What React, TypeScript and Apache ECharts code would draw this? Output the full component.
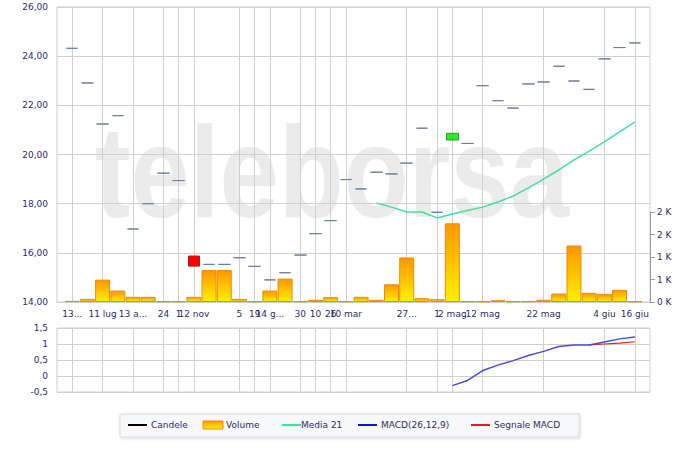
import React, { useEffect, useRef } from "react";
import * as echarts from "echarts";

// 40 category slots (first and last empty)
const tickLabels = [
  "", "13...", "", "11 lug", "", "13 a...", "", "24", "1", "12 nov",
  "", "", "5", "19", "14 g...", "", "30", "10", "26", "10 mar",
  "", "", "", "27...", "", "1", "2 mag", "", "12 mag", "",
  "", "", "22 mag", "", "", "", "4 giu", "", "16 giu", "",
];

const priceOpen: (number | null)[] = [
  null, 24.32, 22.91, 21.24, 21.58, 16.97, 18.0, 19.24, 18.94, 15.87,
  15.53, 15.53, 15.8, 15.45, 14.9, 15.19, 15.91, 16.78, 17.31, 18.98,
  18.6, 19.28, 19.21, 19.65, 21.07, 17.65, 20.59, 20.45, 22.8, 22.19,
  21.89, 22.87, 22.95, 23.59, 22.99, 22.65, 23.89, 24.35, 24.54, null,
];
const priceClose: (number | null)[] = [
  null, 24.32, 22.91, 21.24, 21.58, 16.97, 18.0, 19.24, 18.94, 15.46,
  15.53, 15.53, 15.8, 15.45, 14.9, 15.19, 15.91, 16.78, 17.31, 18.98,
  18.6, 19.28, 19.21, 19.65, 21.07, 17.65, 20.86, 20.45, 22.8, 22.19,
  21.89, 22.87, 22.95, 23.59, 22.99, 22.65, 23.89, 24.35, 24.54, null,
];

const volume: (number | null)[] = [
  null, 25, 70, 497, 254, 115, 115, 15, 15, 115,
  712, 712, 70, 15, 254, 520, 15, 49, 106, 15,
  115, 49, 393, 990, 84, 62, 1750, 15, 15, 40,
  15, 15, 49, 188, 1255, 203, 181, 270, 15, null,
];

const media21: (number | null)[] = [
  null, null, null, null, null, null, null, null, null, null,
  null, null, null, null, null, null, null, null, null, null,
  null, 18.03, 17.86, 17.66, 17.66, 17.42, 17.58, 17.72, 17.86, 18.07,
  18.31, 18.64, 19.0, 19.37, 19.78, 20.14, 20.51, 20.92, 21.33, null,
];

const macd: (number | null)[] = [
  null, null, null, null, null, null, null, null, null, null,
  null, null, null, null, null, null, null, null, null, null,
  null, null, null, null, null, null, -0.3, -0.14, 0.17, 0.34,
  0.48, 0.64, 0.77, 0.92, 0.97, 0.97, 1.06, 1.16, 1.22, null,
];

const signal: (number | null)[] = [
  null, null, null, null, null, null, null, null, null, null,
  null, null, null, null, null, null, null, null, null, null,
  null, null, null, null, null, null, null, null, null, null,
  null, null, null, null, null, 0.97, 1.0, 1.03, 1.07, null,
];

const TEXT = "#2c2c66";
const GRID_LINE = "#cfcfcf";
const FONT = "DejaVu Sans";

export default function App() {
  const ref = useRef<HTMLDivElement>(null);

  useEffect(() => {
    if (!ref.current) return;
    const chart = echarts.init(ref.current, undefined, { renderer: "svg" });

    const dash = "#6f7d96";
    const candleData = priceOpen.map((o, i) => {
      const c = priceClose[i];
      if (o == null || c == null) return ["-", "-", "-", "-"];
      const lo = Math.min(o, c);
      const hi = Math.max(o, c);
      if (o < c) {
        return {
          value: [o, c, lo, hi],
          itemStyle: { color: "#22ee22", borderColor: "#2f9a2f", color0: "#22ee22", borderColor0: "#2f9a2f" },
        };
      }
      if (o > c) {
        return {
          value: [o, c, lo, hi],
          itemStyle: { color0: "#ff0000", borderColor0: "#a52020", color: "#ff0000", borderColor: "#a52020" },
        };
      }
      return { value: [o, c, lo, hi] };
    });

    const showLine = (i: number) => tickLabels[i] !== "";

    const labelStyle = { color: TEXT, fontSize: 9, fontFamily: FONT };

    const barGradient = new echarts.graphic.LinearGradient(0, 0, 0, 1, [
      { offset: 0, color: "#ff9600" },
      { offset: 1, color: "#fff000" },
    ]);

    const legendY = 425;
    const legendText = (x: number, t: string) => ({
      type: "text",
      x,
      y: legendY,
      style: { text: t, fill: TEXT, font: `9px "${FONT}"`, verticalAlign: "middle" },
    });
    const legendLine = (x: number, color: string) => ({
      type: "line",
      shape: { x1: x, y1: legendY, x2: x + 19, y2: legendY },
      style: { stroke: color, lineWidth: 2 },
    });

    chart.setOption({
      animation: false,
      textStyle: { fontFamily: FONT },
      grid: [
        { left: 57, top: 7, width: 593, height: 295, show: true, borderColor: GRID_LINE, borderWidth: 1 },
        { left: 57, top: 212, width: 593, height: 90, show: false },
        { left: 57, top: 328, width: 593, height: 64, show: true, borderColor: GRID_LINE, borderWidth: 1 },
      ],
      xAxis: [
        {
          type: "category",
          gridIndex: 0,
          data: tickLabels,
          boundaryGap: false,
          axisLine: { show: true, lineStyle: { color: GRID_LINE } },
          axisTick: { show: false },
          axisLabel: { ...labelStyle, interval: 0, margin: 7 },
          splitLine: { show: true, interval: (i: number) => showLine(i), lineStyle: { color: GRID_LINE } },
        },
        {
          type: "category",
          gridIndex: 1,
          data: tickLabels,
          boundaryGap: false,
          show: false,
        },
        {
          type: "category",
          gridIndex: 2,
          data: tickLabels,
          boundaryGap: false,
          axisLine: { show: false },
          axisTick: { show: false },
          axisLabel: { show: false },
          splitLine: { show: true, interval: (i: number) => showLine(i), lineStyle: { color: GRID_LINE } },
        },
      ],
      yAxis: [
        {
          type: "value",
          gridIndex: 0,
          min: 14,
          max: 26,
          interval: 2,
          axisLine: { show: false },
          axisTick: { show: false },
          axisLabel: { ...labelStyle, margin: 9, formatter: (v: number) => v.toFixed(2).replace(".", ",") },
          splitLine: { show: true, lineStyle: { color: GRID_LINE } },
        },
        {
          type: "value",
          gridIndex: 1,
          position: "right",
          min: 0,
          max: 2000,
          interval: 500,
          axisLine: { show: true, lineStyle: { color: "#9a9a9a" } },
          axisTick: { show: true, length: 5, lineStyle: { color: "#9a9a9a" } },
          axisLabel: { ...labelStyle, margin: 7, formatter: (v: number) => Math.round(v / 1000) + " K" },
          splitLine: { show: false },
        },
        {
          type: "value",
          gridIndex: 2,
          min: -0.5,
          max: 1.5,
          interval: 0.5,
          axisLine: { show: false },
          axisTick: { show: false },
          axisLabel: { ...labelStyle, margin: 9, formatter: (v: number) => String(v).replace(".", ",") },
          splitLine: { show: true, lineStyle: { color: GRID_LINE } },
        },
      ],
      graphic: [
        {
          type: "text",
          x: 95,
          y: 172,
          scaleX: 0.82,
          z: -10,
          silent: true,
          style: {
            text: "teleborsa",
            font: 'bold 130px "Liberation Sans"',
            fill: "#ebebeb",
            verticalAlign: "middle",
          },
        },
        {
          type: "rect",
          shape: { x: 120, y: 414, width: 459, height: 23 },
          style: { fill: "#f7f8fa", stroke: "#d6dbe2", lineWidth: 1, shadowBlur: 3, shadowColor: "rgba(0,0,0,0.15)", shadowOffsetX: 1, shadowOffsetY: 1 },
        },
        legendLine(128, "#000000"),
        legendText(151, "Candele"),
        {
          type: "rect",
          shape: { x: 203, y: 421, width: 20, height: 8 },
          style: {
            fill: new echarts.graphic.LinearGradient(0, 0, 0, 1, [
              { offset: 0, color: "#ff9600" },
              { offset: 1, color: "#fff000" },
            ]),
            stroke: "#f08c00",
            lineWidth: 1,
          },
        },
        legendText(226, "Volume"),
        legendLine(282, "#40e0a0"),
        legendText(301, "Media 21"),
        legendLine(358, "#1a1aaa"),
        legendText(381, "MACD(26,12,9)"),
        legendLine(471, "#dd2222"),
        legendText(494, "Segnale MACD"),
      ],
      series: [
        {
          name: "Volume",
          type: "bar",
          xAxisIndex: 1,
          yAxisIndex: 1,
          barWidth: 15,
          data: volume.map((v) => (v == null ? "-" : v)),
          itemStyle: { color: barGradient, borderColor: "#ef8a00", borderWidth: 1 },
          z: 3,
        },
        {
          name: "Candele",
          type: "candlestick",
          xAxisIndex: 0,
          yAxisIndex: 0,
          barWidth: 12,
          data: candleData,
          itemStyle: { color: dash, color0: dash, borderColor: dash, borderColor0: dash, borderWidth: 1 },
          z: 4,
        },
        {
          name: "Media 21",
          type: "line",
          xAxisIndex: 0,
          yAxisIndex: 0,
          data: media21.map((v) => (v == null ? "-" : v)),
          showSymbol: false,
          symbol: "none",
          lineStyle: { color: "#40e0a0", width: 1.5 },
          z: 5,
        },
        {
          name: "MACD(26,12,9)",
          type: "line",
          xAxisIndex: 2,
          yAxisIndex: 2,
          data: macd.map((v) => (v == null ? "-" : v)),
          symbol: "none",
          lineStyle: { color: "#4a4ade", width: 1.5 },
          z: 5,
        },
        {
          name: "Segnale MACD",
          type: "line",
          xAxisIndex: 2,
          yAxisIndex: 2,
          data: signal.map((v) => (v == null ? "-" : v)),
          symbol: "none",
          lineStyle: { color: "#dd2222", width: 1.2 },
          z: 4,
        },
      ],
    });

    return () => chart.dispose();
  }, []);

  return (
    <div
      ref={ref}
      style={{ position: "fixed", left: 0, top: 0, width: 700, height: 451, background: "#ffffff" }}
    />
  );
}
